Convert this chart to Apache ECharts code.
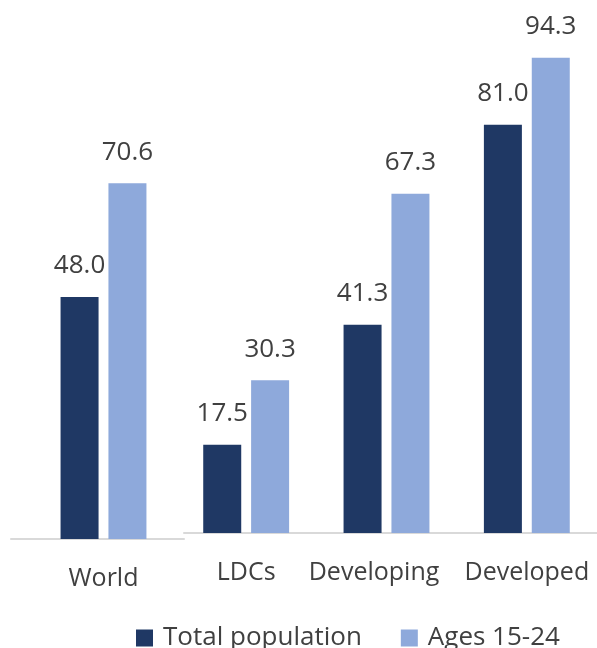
<!DOCTYPE html>
<html>
<head>
<meta charset="utf-8">
<script src="https://cdn.jsdelivr.net/npm/echarts@6/dist/echarts.min.js"></script>
<style>html,body{margin:0;padding:0;background:#fff}#c{width:597px;height:648px}</style>
</head>
<body>
<div id="c"></div>
<script>
var worldCategory = ['World'];
var groupCategories = ['LDCs', 'Developing', 'Developed'];
var totalPopulation = [48.0, 17.5, 41.3, 81.0];
var ages15to24 = [70.6, 30.3, 67.3, 94.3];
var seriesNames = ['Total population', 'Ages 15-24'];

var darkBlue = '#1F3864';
var lightBlue = '#8EA9DB';
var textColor = '#404040';
var fontFamily = 'Open Sans';

var chart = echarts.init(document.getElementById('c'), null, {renderer: 'canvas'});

function labelStyle() {
  return {
    show: true, position: 'top', distance: 18,
    fontSize: 26, color: textColor, fontFamily: fontFamily,
    formatter: function (p) { return p.value.toFixed(1); }
  };
}

var grids = [
  {left: 23, width: 161, top: 35, height: 504},   // World bars
  {left: 11, width: 173, top: 35, height: 504},   // World axis line
  {left: 176, width: 429, top: 29, height: 504},  // Groups bars
  {left: 184, right: 0, top: 29, height: 504}     // Groups axis line
];

var labelRich = {
  shift: {fontSize: 25, color: textColor, fontFamily: fontFamily, padding: [0, 25, 0, 0]}
};

function catAxis(gi, data, showLine, showLabel) {
  return {
    type: 'category', gridIndex: gi, data: data,
    axisLine: {show: showLine, lineStyle: {color: '#d9d9d9', width: 2}},
    axisTick: {show: false},
    axisLabel: {
      show: showLabel, interval: 0, margin: 27, fontSize: 25, color: textColor, fontFamily: fontFamily,
      formatter: function (v) { return v === 'Developing' ? '{shift|' + v + '}' : v; },
      rich: labelRich
    }
  };
}
function valAxis(gi) {
  return {type: 'value', gridIndex: gi, min: 0, max: 100, show: false};
}

var option = {
  animation: false,
  backgroundColor: '#fff',
  grid: grids,
  xAxis: [
    catAxis(0, worldCategory, false, true),
    catAxis(1, [''], true, false),
    catAxis(2, groupCategories, false, true),
    catAxis(3, [''], true, false)
  ],
  yAxis: [valAxis(0), valAxis(1), valAxis(2), valAxis(3)],
  legend: {
    left: 131, top: 620,
    itemWidth: 17, itemHeight: 17, itemGap: 39,
    icon: 'rect',
    data: seriesNames,
    textStyle: {fontSize: 26, color: textColor, fontFamily: fontFamily, padding: [0, 0, 0, 5]}
  },
  series: [
    {name: seriesNames[0], type: 'bar', xAxisIndex: 0, yAxisIndex: 0, barWidth: 38, barGap: '26%',
      data: totalPopulation.slice(0, 1), itemStyle: {color: darkBlue}, label: labelStyle()},
    {name: seriesNames[1], type: 'bar', xAxisIndex: 0, yAxisIndex: 0, barWidth: 38, barGap: '26%',
      data: ages15to24.slice(0, 1), itemStyle: {color: lightBlue}, label: labelStyle()},
    {name: seriesNames[0], type: 'bar', xAxisIndex: 2, yAxisIndex: 2, barWidth: 38, barGap: '26%',
      data: totalPopulation.slice(1), itemStyle: {color: darkBlue}, label: labelStyle()},
    {name: seriesNames[1], type: 'bar', xAxisIndex: 2, yAxisIndex: 2, barWidth: 38, barGap: '26%',
      data: ages15to24.slice(1), itemStyle: {color: lightBlue}, label: labelStyle()}
  ]
};
chart.setOption(option);
</script>
</body>
</html>
